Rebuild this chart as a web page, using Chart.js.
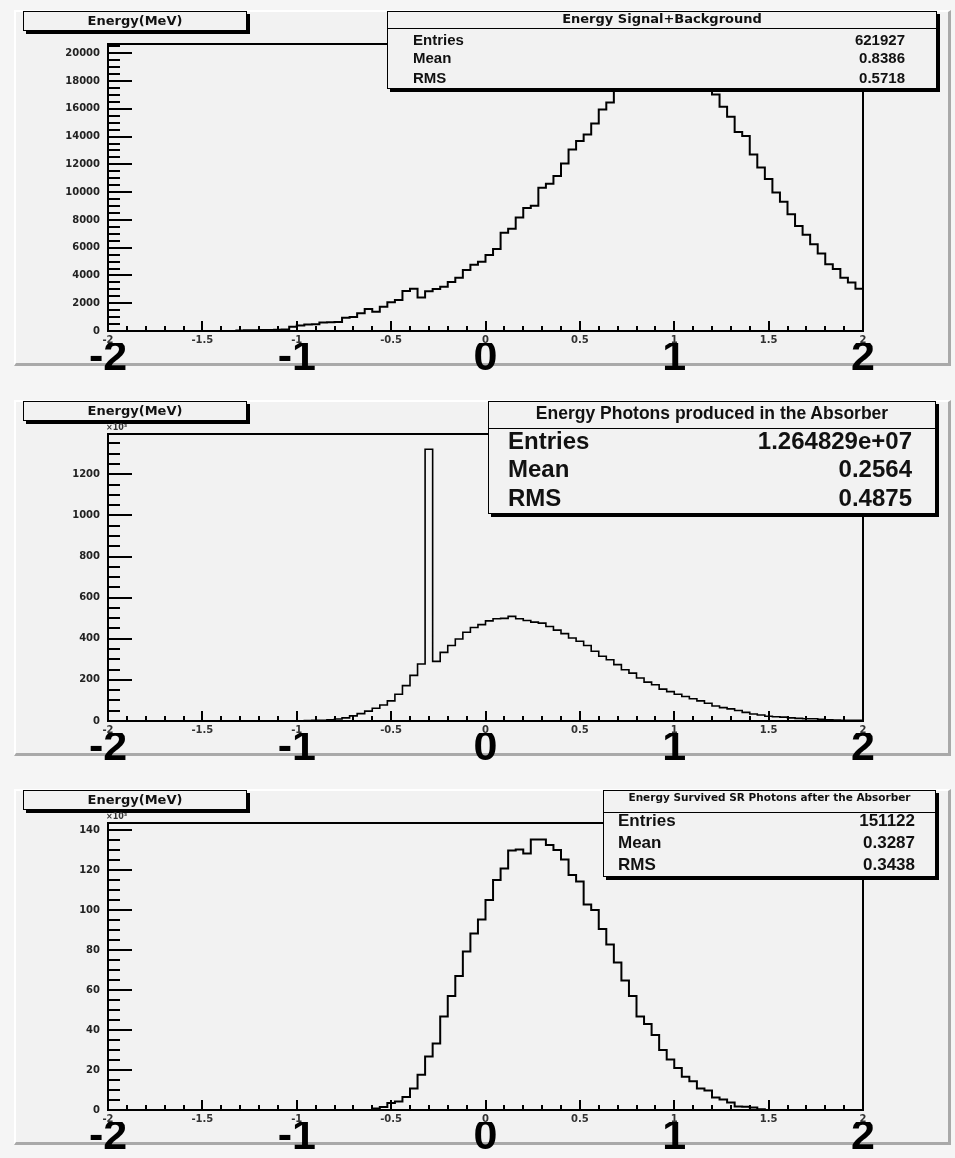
<!DOCTYPE html>
<html lang="en">
<head>
<meta charset="utf-8">
<title>Energy histograms</title>
<script src="https://cdn.jsdelivr.net/npm/chart.js@4.4.1/dist/chart.umd.min.js"></script>
<style>
    html, body { margin: 0; padding: 0; }
    body {
        width: 955px; height: 1158px; overflow: hidden; position: relative;
        background: #f5f5f5; font-family: "DejaVu Sans", sans-serif;
    }
    .panneau { position: absolute; left: 0; width: 955px; height: 390px; }
    .pad {
        position: absolute; left: 14px; top: 10px; width: 937px; height: 356px;
        box-sizing: border-box; background: #f2f2f2;
        border-top: 2px solid #fff; border-left: 2px solid #fff;
        border-right: 3px solid #a9a9a9; border-bottom: 3px solid #a9a9a9;
    }
    .panneau canvas { position: absolute; left: 0; top: 0; }
    .boite {
        position: absolute; box-sizing: border-box; border: 1px solid #000;
        background: #f2f2f2; box-shadow: 3px 3px 0 #000; color: #111;
    }
    .boite .txt { position: absolute; white-space: nowrap; font-weight: bold; }
    .facteur { position: absolute; font: bold 8px "DejaVu Sans", sans-serif; color: #333; }
</style>
</head>
<body>

<script>
// Histogrammes : 100 bins entre -2 et 2
const X_MIN = -2;
const X_MAX = 2;

// Energy Signal+Background (contenu des bins)
const signalBackground = [
    0, 0, 0, 0, 0, 0, 0, 0, 0, 0,
    0, 0, 0, 0, 0, 0, 0, 40, 50, 60,
    70, 80, 90, 110, 310, 400, 470, 490, 610, 625,
    640, 960, 1010, 1270, 1585, 1390, 1750, 2065, 2230, 2880,
    3050, 2420, 2855, 3025, 3190, 3530, 3840, 4390, 4780, 4990,
    5470, 5900, 7080, 7370, 8180, 8860, 9020, 10320, 10610, 11160,
    12070, 13080, 13680, 14160, 14950, 15960, 16460, 17400, 17900, 18400,
    18800, 19200, 19500, 19700, 19600, 19400, 19000, 18600, 18100, 17600,
    17040, 16150, 15430, 14330, 14040, 12720, 11780, 10940, 9980, 9310,
    8400, 7560, 6940, 6240, 5590, 4800, 4460, 3840, 3500, 3050
];

// Energy Photons produced in the Absorber (x10^3)
const photonsProduced = [
    0, 0, 0, 0, 0, 0, 0, 0, 0, 0,
    0, 0, 0, 0, 0, 0, 0, 0, 0, 0,
    0, 0, 0, 0, 0, 0, 2, 3, 4, 6,
    10, 15, 25, 36, 48, 62, 78, 98, 130, 172,
    222, 277, 1322, 290, 334, 367, 399, 432, 455, 469,
    487, 497, 499, 509, 497, 489, 481, 476, 460, 442,
    425, 404, 388, 367, 339, 315, 298, 274, 249, 233,
    209, 189, 176, 155, 143, 130, 119, 108, 98, 86,
    73, 65, 59, 51, 42, 34, 29, 23, 21, 19,
    15, 13, 11, 11, 8, 6, 5, 4, 4, 3
];

// Energy Survived SR Photons after the Absorber (x10^3)
const survivedPhotons = [
    0, 0, 0, 0, 0, 0, 0, 0, 0, 0,
    0, 0, 0, 0, 0, 0, 0, 0, 0, 0,
    0, 0, 0, 0, 0, 0, 0, 0, 0, 0,
    0, 0, 0, 0, 0, 0.8, 1.5, 3.5, 4.2, 6.5,
    10.8, 17.6, 26.8, 33.2, 46.7, 57, 67, 79.2, 88.3, 95.3,
    105, 115, 120.8, 129.7, 130.3, 128.3, 135.3, 135.3, 132.5, 130,
    125.3, 117.5, 114.2, 102.8, 100, 90.5, 82.8, 73.7, 64.7, 57,
    46.7, 43, 37.5, 30, 25.3, 21, 16.6, 14.4, 10.8, 9.8,
    6.3, 5.3, 3.7, 1.7, 1.6, 1.2, 0.4, 0, 0, 0,
    0, 0, 0, 0, 0, 0, 0, 0, 0, 0
];

const histoTitres = [
    'Energy Signal+Background',
    'Energy Photons produced in the Absorber',
    'Energy Survived SR Photons after the Absorber'
];
const axeTitre = 'Energy(MeV)';
const statsNoms = ['Entries', 'Mean', 'RMS'];
const statsSignal = ['621927', '0.8386', '0.5718'];
const statsProduced = ['1.264829e+07', '0.2564', '0.4875'];
const statsSurvived = ['151122', '0.3287', '0.3438'];
const yMaximums = [20670, 1396, 143.5];
const yPasMajeurs = [2000, 200, 20];
const yPasMineurs = [500, 50, 5];
const xPasMajeur = 0.5;
const xGrosLabels = [-2, -1, 0, 1, 2];
const facteurY = '\u00d710\u00b3';

// Mise en page de chaque panneau (coordonnées relatives au panneau)
const panneaux = [
    {
        top: 0, valeurs: signalBackground, stats: statsSignal, titre: histoTitres[0], facteur: false, trait: 2,
        boite: { l: 387, t: 11, r: 937, b: 89, hTitre: 17, cTitre: 19,
                 fTitre: '13px "DejaVu Sans"', fLigne: '15px "Liberation Sans"',
                 lignes: [40, 58, 78], xNom: 413, xVal: 905 }
    },
    {
        top: 390, valeurs: photonsProduced, stats: statsProduced, titre: histoTitres[1], facteur: true, trait: 1.6,
        boite: { l: 488, t: 11, r: 936, b: 124, hTitre: 27, cTitre: 23,
                 fTitre: '17.5px "Liberation Sans"', fLigne: '24px "Liberation Sans"',
                 lignes: [51, 79, 108], xNom: 508, xVal: 912 }
    },
    {
        top: 779, valeurs: survivedPhotons, stats: statsSurvived, titre: histoTitres[2], facteur: true, trait: 2,
        boite: { l: 603, t: 11, r: 936, b: 98, hTitre: 22, cTitre: 18,
                 fTitre: '10.5px "DejaVu Sans"', fLigne: '17px "Liberation Sans"',
                 lignes: [42, 64, 86], xNom: 618, xVal: 915 }
    }
];

// Plugin : cadre et graduations vers l'intérieur, façon ROOT
const rootAxes = {
    id: 'rootAxes',
    afterDatasetsDraw(chart, args, opts) {
        const { ctx, chartArea: a, scales: { x, y } } = chart;
        ctx.save();
        ctx.strokeStyle = '#000';
        ctx.lineWidth = 2;
        ctx.strokeRect(a.left, a.top, a.right - a.left, a.bottom - a.top);

        // graduations Y
        const nY = Math.floor(y.max / opts.mineur + 1e-6);
        const parMajeur = Math.round(opts.majeur / opts.mineur);
        for (let i = 0; i <= nY; i++) {
            const py = Math.round(y.getPixelForValue(i * opts.mineur));
            const long = (i % parMajeur === 0) ? 24 : 12;
            ctx.beginPath();
            ctx.moveTo(a.left, py);
            ctx.lineTo(a.left + long, py);
            ctx.stroke();
        }

        // graduations X : majeures tous les 0.5, mineures tous les 0.1
        for (let i = 0; i <= 40; i++) {
            const px = Math.round(x.getPixelForValue(X_MIN + i * 0.1));
            const long = (i % 5 === 0) ? 10 : 5;
            ctx.beginPath();
            ctx.moveTo(px, a.bottom);
            ctx.lineTo(px, a.bottom - long);
            ctx.stroke();
        }
        ctx.restore();
    }
};

// liste des valeurs de graduation entre min et max
function graduations(min, max, pas) {
    const liste = [];
    const n = Math.floor((max - min) / pas + 1e-6);
    for (let i = 0; i <= n; i++) liste.push(+(min + i * pas).toFixed(6));
    return liste;
}

function creerBoite(parent, l, t, r, b) {
    const div = document.createElement('div');
    div.className = 'boite';
    div.style.left = l + 'px';
    div.style.top = t + 'px';
    div.style.width = (r - l) + 'px';
    div.style.height = (b - t) + 'px';
    parent.appendChild(div);
    return div;
}

function ajouterTexte(boite, texte, font, style) {
    const span = document.createElement('div');
    span.className = 'txt';
    span.textContent = texte;
    span.style.font = 'bold ' + font + ', sans-serif';
    Object.assign(span.style, style);
    boite.appendChild(span);
    return span;
}

function creerPanneau(p, index) {
    const panneau = document.createElement('div');
    panneau.className = 'panneau';
    panneau.style.top = p.top + 'px';
    document.body.appendChild(panneau);

    const pad = document.createElement('div');
    pad.className = 'pad';
    panneau.appendChild(pad);

    const canvas = document.createElement('canvas');
    canvas.width = 955;
    canvas.height = 390;
    panneau.appendChild(canvas);

    creerHistogramme(canvas, p.valeurs, index, p.trait);

    // boîte du titre d'axe
    const titre = creerBoite(panneau, 23, 11, 247, 31);
    ajouterTexte(titre, axeTitre, '13px "DejaVu Sans"', {
        left: '0', right: '0', top: '0', textAlign: 'center', lineHeight: '18px'
    });

    if (p.facteur) {
        const f = document.createElement('div');
        f.className = 'facteur';
        f.textContent = facteurY;
        f.style.left = '106px';
        f.style.top = '33px';
        panneau.appendChild(f);
    }

    // boîte des statistiques
    const s = p.boite;
    const boite = creerBoite(panneau, s.l, s.t, s.r, s.b);
    const sep = document.createElement('div');
    sep.style.cssText = `position:absolute;left:0;right:0;top:${s.hTitre - 1}px;border-top:1px solid #000;`;
    boite.appendChild(sep);
    ajouterTexte(boite, p.titre, s.fTitre, {
        left: '0', right: '0', textAlign: 'center',
        top: (s.cTitre - s.t - 1 - 10) + 'px', lineHeight: '20px'
    });
    statsNoms.forEach((nom, i) => {
        const haut = (s.lignes[i] - s.t - 1 - 15) + 'px';
        ajouterTexte(boite, nom, s.fLigne, {
            left: (s.xNom - s.l - 1) + 'px', top: haut, lineHeight: '30px'
        });
        ajouterTexte(boite, p.stats[i], s.fLigne, {
            right: (s.r - s.xVal - 1) + 'px', top: haut, lineHeight: '30px', textAlign: 'right'
        });
    });
}

function creerHistogramme(canvas, valeurs, index, trait) {
    const largeurBin = (X_MAX - X_MIN) / valeurs.length;
    const points = valeurs.map((v, i) => ({ x: X_MIN + i * largeurBin, y: v }));
    points.push({ x: X_MAX, y: valeurs[valeurs.length - 1] });

    const petiteFonte = { family: 'DejaVu Sans', size: 10, weight: 'bold' };
    const yTicks = graduations(0, yMaximums[index], yPasMajeurs[index]);
    const xTicks = graduations(X_MIN, X_MAX, xPasMajeur);

    return new Chart(canvas, {
        type: 'line',
        data: {
            datasets: [{
                data: points,
                stepped: 'before',
                borderColor: '#000',
                borderWidth: trait,
                pointRadius: 0,
                fill: false
            }]
        },
        options: {
            responsive: false,
            animation: false,
            devicePixelRatio: 1,
            events: [],
            layout: { padding: { left: 0, top: 44, right: 92, bottom: 0 } },
            plugins: {
                legend: { display: false },
                tooltip: { enabled: false },
                rootAxes: { majeur: yPasMajeurs[index], mineur: yPasMineurs[index] }
            },
            scales: {
                x: {
                    type: 'linear', position: 'bottom', min: X_MIN, max: X_MAX, weight: 0,
                    grid: { display: false, drawTicks: false },
                    border: { display: false },
                    ticks: {
                        autoSkip: false, maxRotation: 0, padding: 3,
                        font: petiteFonte, color: '#333',
                        callback: v => String(v)
                    },
                    afterBuildTicks: sc => { sc.ticks = xTicks.map(v => ({ value: v })); },
                    afterFit: sc => { sc.height = 12; }
                },
                x2: {
                    type: 'linear', position: 'bottom', min: X_MIN, max: X_MAX, weight: 1,
                    grid: { display: false, drawTicks: false },
                    border: { display: false },
                    ticks: {
                        autoSkip: false, maxRotation: 0, padding: -6,
                        font: { family: 'Liberation Sans', size: 43, weight: 'bold', lineHeight: 1 },
                        color: '#000',
                        callback: v => String(v)
                    },
                    afterBuildTicks: sc => { sc.ticks = xGrosLabels.map(v => ({ value: v })); },
                    afterFit: sc => { sc.height = 47; }
                },
                y: {
                    type: 'linear', min: 0, max: yMaximums[index],
                    grid: { display: false, drawTicks: false },
                    border: { display: false },
                    ticks: {
                        autoSkip: false, padding: 8,
                        font: petiteFonte, color: '#222',
                        callback: v => String(v)
                    },
                    afterBuildTicks: sc => { sc.ticks = yTicks.map(v => ({ value: v })); },
                    afterFit: sc => { sc.width = 108; }
                }
            }
        },
        plugins: [rootAxes]
    });
}

document.addEventListener('DOMContentLoaded', function() {
    panneaux.forEach((p, i) => creerPanneau(p, i));
});
</script>
</body>
</html>
